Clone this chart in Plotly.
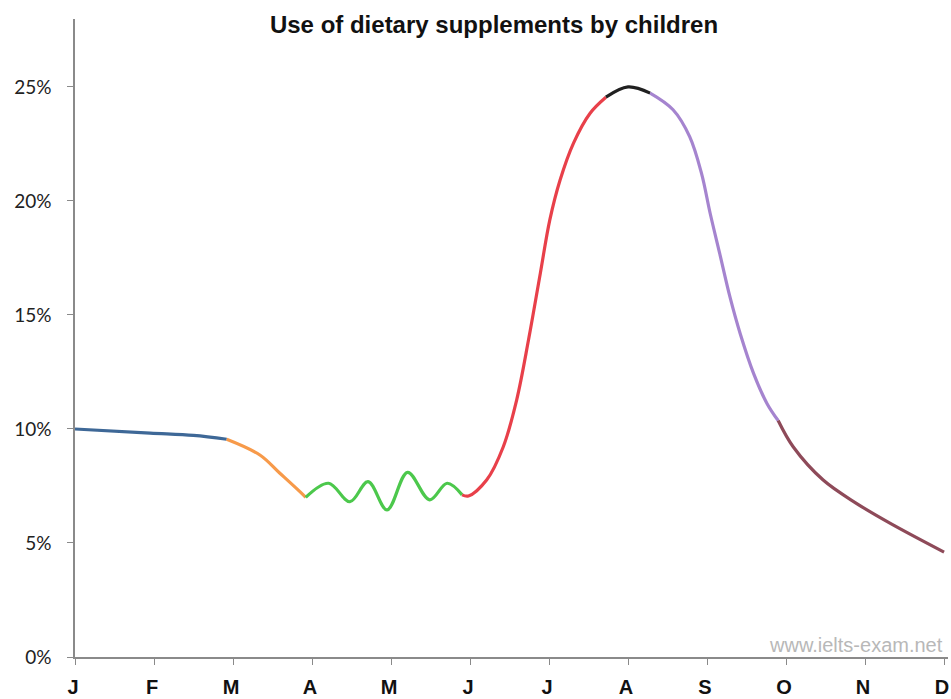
import plotly.graph_objects as go

months = ["J", "F", "M", "A", "M", "J", "J", "A", "S", "O", "N", "D"]
y_ticks = [0, 5, 10, 15, 20, 25]

# segments: month position (0=Jan ... 11=Dec) and percentage
blue_x = [0.0, 0.95, 1.5, 1.92]
blue_y = [10.0, 9.82, 9.72, 9.55]

orange_x = [1.92, 2.34, 2.59, 2.85, 2.92]
orange_y = [9.55, 8.86, 8.07, 7.24, 7.0]

green_x = [2.92, 3.21, 3.48, 3.71, 3.95, 4.21, 4.49, 4.71, 4.90]
green_y = [7.0, 7.62, 6.81, 7.69, 6.45, 8.10, 6.89, 7.62, 7.11]

red_x = [4.90, 4.98, 5.21, 5.42, 5.59, 5.74, 5.89, 6.01, 6.14, 6.31, 6.52, 6.72]
red_y = [7.11, 7.06, 7.76, 9.21, 11.27, 13.9, 16.83, 19.17, 20.92, 22.54, 23.85, 24.55]

black_x = [6.72, 7.0, 7.28]
black_y = [24.55, 25.0, 24.73]

purple_x = [7.28, 7.57, 7.78, 7.93, 8.04, 8.16, 8.29, 8.42, 8.59, 8.76, 8.90]
purple_y = [24.73, 24.0, 22.82, 21.21, 19.45, 17.70, 15.79, 14.18, 12.43, 11.11, 10.37]

brown_x = [8.90, 9.09, 9.47, 9.89, 10.32, 11.0]
brown_y = [10.37, 9.22, 7.76, 6.74, 5.86, 4.6]

segments = [
    (blue_x, blue_y, "#3E6897"),
    (orange_x, orange_y, "#F79A4A"),
    (green_x, green_y, "#4CC84C"),
    (red_x, red_y, "#E8404A"),
    (black_x, black_y, "#202020"),
    (purple_x, purple_y, "#A584CF"),
    (brown_x, brown_y, "#8E4A59"),
]

fig = go.Figure()
for xs, ys, col in segments:
    fig.add_trace(go.Scatter(
        x=xs, y=ys, mode="lines",
        line=dict(color=col, width=3.2, shape="spline", smoothing=1.0),
        showlegend=False, hoverinfo="skip",
    ))

W, H = 951, 699
fig.update_layout(
    width=W, height=H,
    paper_bgcolor="white", plot_bgcolor="white",
    margin=dict(l=75, r=3, t=19, b=42, pad=0, autoexpand=False),
    title=dict(
        text="<b>Use of dietary supplements by children</b>",
        x=494 / W, xanchor="center", xref="container",
        y=1 - 25 / H, yanchor="middle", yref="container",
        font=dict(family="Liberation Sans", size=24, color="#111111"),
    ),
    xaxis=dict(
        range=[0, 11.05], automargin=False,
        tickmode="array", tickvals=list(range(12)), ticktext=months,
        showgrid=False, zeroline=False,
        showline=True, linecolor="#8a8a8a", linewidth=1.5,
        ticks="outside", ticklen=6, tickcolor="#8a8a8a",
        ticklabelstandoff=5, ticklabeloverflow="allow", ticklabelshift=-2,
        tickfont=dict(family="Liberation Sans", size=20, color="#111111", weight="bold"),
    ),
    yaxis=dict(
        range=[0, 27.98], automargin=False,
        tickmode="array", tickvals=y_ticks,
        ticktext=[f"{v}%" for v in y_ticks],
        showgrid=False, zeroline=False,
        showline=True, linecolor="#8a8a8a", linewidth=1.5,
        ticks="outside", ticklen=6, tickcolor="#8a8a8a",
        ticklabelstandoff=12,
        tickfont=dict(family="Lato", size=19, color="#222222"),
    ),
    annotations=[dict(
        text="www.ielts-exam.net", x=0.9965, xref="paper", xanchor="right",
        y=12 / 638, yref="paper", yanchor="middle", showarrow=False,
        font=dict(family="Liberation Sans", size=20, color="#b8b8b8"),
    )],
)

fig.write_html("out.html", post_script="document.body.style.margin='0';",
               config={"displayModeBar": False})
